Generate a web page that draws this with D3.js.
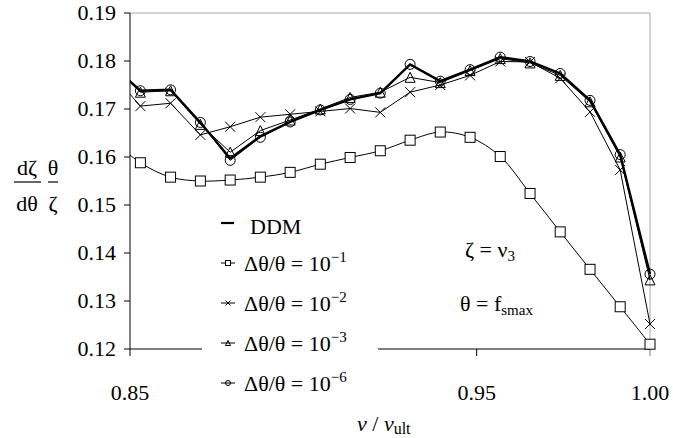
<!DOCTYPE html>
<html>
<head>
<script src="https://cdn.jsdelivr.net/npm/d3@7/dist/d3.min.js"></script>
<style>
    text, tspan { font-family: "Liberation Serif", "Times New Roman", serif !important; }
</style>
</head>
<body style="margin:0">
<svg id="chart" width="673" height="438" font-family="Liberation Serif"></svg>
<script>
    // v / v_ult (first point lies just left of the axis and is clipped)
    var xs = [0.8443, 0.8530, 0.8617, 0.8703, 0.8789, 0.8876, 0.8962, 0.9049, 0.9135, 0.9222,
              0.9308, 0.9395, 0.9481, 0.9568, 0.9654, 0.9741, 0.9827, 0.9914, 1.0000];

    var ddm  = [0.1795, 0.1738, 0.1740, 0.1672, 0.1597, 0.1643, 0.1673, 0.1698, 0.1720, 0.1733,
                0.1793, 0.1758, 0.1782, 0.1808, 0.1799, 0.1774, 0.1718, 0.1605, 0.1356];
    var d1e1 = [0.1640, 0.1588, 0.1558, 0.1550, 0.1552, 0.1558, 0.1568, 0.1585, 0.1599, 0.1613,
                0.1635, 0.1652, 0.1641, 0.1601, 0.1524, 0.1444, 0.1366, 0.1288, 0.1210];
    var d1e2 = [0.1778, 0.1706, 0.1712, 0.1646, 0.1663, 0.1683, 0.1689, 0.1695, 0.1701, 0.1693,
                0.1735, 0.1750, 0.1770, 0.1799, 0.1798, 0.1764, 0.1694, 0.1573, 0.1252];
    var d1e3 = [0.1795, 0.1735, 0.1738, 0.1668, 0.1610, 0.1655, 0.1677, 0.1700, 0.1724, 0.1735,
                0.1766, 0.1755, 0.1780, 0.1805, 0.1796, 0.1770, 0.1715, 0.1600, 0.1344];
    var d1e6 = [0.1795, 0.1738, 0.1740, 0.1672, 0.1593, 0.1641, 0.1673, 0.1698, 0.1720, 0.1733,
                0.1793, 0.1758, 0.1782, 0.1808, 0.1799, 0.1774, 0.1718, 0.1605, 0.1356];

    var yTicks = [0.12, 0.13, 0.14, 0.15, 0.16, 0.17, 0.18, 0.19];
    var xTicks = [0.85, 0.90, 0.95, 1.00];
    var xLabels = ["0.85", "0.95", "1.00"];   // 0.90 is hidden by the legend
    var legendExp = ["−1", "−2", "−3", "−6"];

    var FONT = "Liberation Serif";
    var L = 130, R = 650, T = 13, B = 349;
    var svg = d3.select('#chart');

    var x = d3.scaleLinear().domain([0.85, 1.0]).range([L, R]);
    var y = d3.scaleLinear().domain([0.12, 0.19]).range([B, T]);
    var fmt = d3.format('.2f');

    function label(parent, px, py, size){
        return parent.append('text').attr('x', px).attr('y', py)
            .attr('font-size', size).attr('font-family', FONT)
            .style('font-family', '"Liberation Serif", "Times New Roman", serif', 'important')
            .attr('fill', '#000');
    }

    // frame: grey top/right, black axes
    svg.append('line').attr('x1', L).attr('x2', R).attr('y1', T).attr('y2', T)
        .attr('stroke', '#a6a6a6').attr('stroke-width', 1);
    svg.append('line').attr('x1', R).attr('x2', R).attr('y1', T).attr('y2', B + 7)
        .attr('stroke', '#a6a6a6').attr('stroke-width', 1);
    svg.append('line').attr('x1', L).attr('x2', L).attr('y1', T).attr('y2', B + 7)
        .attr('stroke', '#000').attr('stroke-width', 1);
    svg.append('line').attr('x1', L).attr('x2', R).attr('y1', B).attr('y2', B)
        .attr('stroke', '#000').attr('stroke-width', 1);

    // y ticks
    svg.selectAll('line.yt').data(yTicks).enter().append('line').attr('class', 'yt')
        .attr('x1', L - 6).attr('x2', L)
        .attr('y1', function(d){ return y(d); }).attr('y2', function(d){ return y(d); })
        .attr('stroke', '#000');
    yTicks.forEach(function(d){
        label(svg, L - 14, y(d) + 7, 22).attr('text-anchor', 'end').text(fmt(d));
    });

    // x ticks
    svg.selectAll('line.xt').data(xTicks.slice(1)).enter().append('line').attr('class', 'xt')
        .attr('x1', function(d){ return x(d); }).attr('x2', function(d){ return x(d); })
        .attr('y1', B).attr('y2', B + 7)
        .attr('stroke', function(d){ return d === 1 ? '#a6a6a6' : '#000'; });
    xLabels.forEach(function(s){
        label(svg, x(+s), 400, 22).attr('text-anchor', 'middle').text(s);
    });

    svg.append('defs').append('clipPath').attr('id', 'plot')
        .append('rect').attr('x', L).attr('y', T).attr('width', R - L + 8).attr('height', B - T + 8);

    var plot = svg.append('g').attr('clip-path', 'url(#plot)');

    function pts(vals){
        return vals.map(function(v, i){ return [x(xs[i]), y(v)]; });
    }

    var straight = d3.line();
    var smooth = d3.line().curve(d3.curveCatmullRom.alpha(0.5));

    var series = [
        {vals: d1e1, sym: 'square', curve: smooth},
        {vals: d1e2, sym: 'cross', curve: straight},
        {vals: d1e3, sym: 'triangle', curve: straight},
        {vals: d1e6, sym: 'circle', curve: straight}
    ];

    function marker(g, sym, cx, cy, s){
        if(sym === 'square'){
            g.append('rect').attr('x', cx - s / 2).attr('y', cy - s / 2)
                .attr('width', s).attr('height', s)
                .attr('fill', '#fff').attr('stroke', '#000').attr('stroke-width', 1);
        } else if(sym === 'cross'){
            var h = s / 2;
            g.append('path').attr('d', 'M' + (cx - h) + ',' + (cy - h) + 'L' + (cx + h) + ',' + (cy + h) +
                'M' + (cx - h) + ',' + (cy + h) + 'L' + (cx + h) + ',' + (cy - h))
                .attr('stroke', '#000').attr('stroke-width', 1).attr('fill', 'none');
        } else if(sym === 'triangle'){
            var h2 = s / 2;
            g.append('path').attr('d', 'M' + cx + ',' + (cy - h2) + 'L' + (cx + h2) + ',' + (cy + h2) +
                'L' + (cx - h2) + ',' + (cy + h2) + 'Z')
                .attr('stroke', '#000').attr('stroke-width', 1).attr('fill', 'none');
        } else {
            g.append('circle').attr('cx', cx).attr('cy', cy).attr('r', s / 2)
                .attr('stroke', '#000').attr('stroke-width', 1).attr('fill', 'none');
        }
    }

    series.forEach(function(s){
        plot.append('path').attr('d', s.curve(pts(s.vals)))
            .attr('fill', 'none').attr('stroke', '#000').attr('stroke-width', 1);
    });

    plot.append('path').attr('d', straight(pts(ddm)))
        .attr('fill', 'none').attr('stroke', '#000').attr('stroke-width', 2.4);

    series.forEach(function(s){
        var g = plot.append('g');
        pts(s.vals).forEach(function(p){ marker(g, s.sym, p[0], p[1], 10); });
    });

    // legend
    var lg = svg.append('g');
    lg.append('rect').attr('x', 202).attr('y', 205).attr('width', 176).attr('height', 200).attr('fill', '#fff');
    var rowY = function(i){ return 223 + i * 40; };

    lg.append('line').attr('x1', 221).attr('x2', 234).attr('y1', rowY(0)).attr('y2', rowY(0))
        .attr('stroke', '#000').attr('stroke-width', 2.2);
    label(lg, 250, rowY(0) + 11, 22).text('DDM');

    series.forEach(function(s, i){
        var yy = rowY(i + 1);
        lg.append('line').attr('x1', 221).attr('x2', 235).attr('y1', yy).attr('y2', yy)
            .attr('stroke', '#000').attr('stroke-width', 1);
        marker(lg, s.sym, 228, yy, 5);
        var t = label(lg, 244, yy + 8, 22);
        t.append('tspan').text('Δθ/θ = 10');
        t.append('tspan').attr('dy', -9).attr('font-size', 15).text(legendExp[i]);
    });

    // y title: (dζ/dθ)(θ/ζ)
    var yt = svg.append('g');
    label(yt, 27, 175, 22).attr('text-anchor', 'middle').text('dζ');
    label(yt, 53, 175, 22).attr('text-anchor', 'middle').text('θ');
    yt.append('line').attr('x1', 14).attr('x2', 41).attr('y1', 182).attr('y2', 182).attr('stroke', '#000').attr('stroke-width', 1.2);
    yt.append('line').attr('x1', 48).attr('x2', 58).attr('y1', 182).attr('y2', 182).attr('stroke', '#000').attr('stroke-width', 1.2);
    label(yt, 27, 211, 22).attr('text-anchor', 'middle').text('dθ');
    label(yt, 53, 211, 22).attr('text-anchor', 'middle').text('ζ');

    // x title
    var xt = label(svg, 357, 431, 22);
    xt.append('tspan').attr('font-style', 'italic').text('v');
    xt.append('tspan').text(' / ');
    xt.append('tspan').attr('font-style', 'italic').text('v');
    xt.append('tspan').attr('dy', 3).attr('font-size', 16).text('ult');

    // annotations
    var a1 = label(svg, 465, 257, 22);
    a1.append('tspan').text('ζ = ν');
    a1.append('tspan').attr('dy', 4).attr('font-size', 15).text('3');
    var a2 = label(svg, 460, 311, 22);
    a2.append('tspan').text('θ  = f');
    a2.append('tspan').attr('dy', 4).attr('font-size', 15).text('smax');
</script>
</body>
</html>
